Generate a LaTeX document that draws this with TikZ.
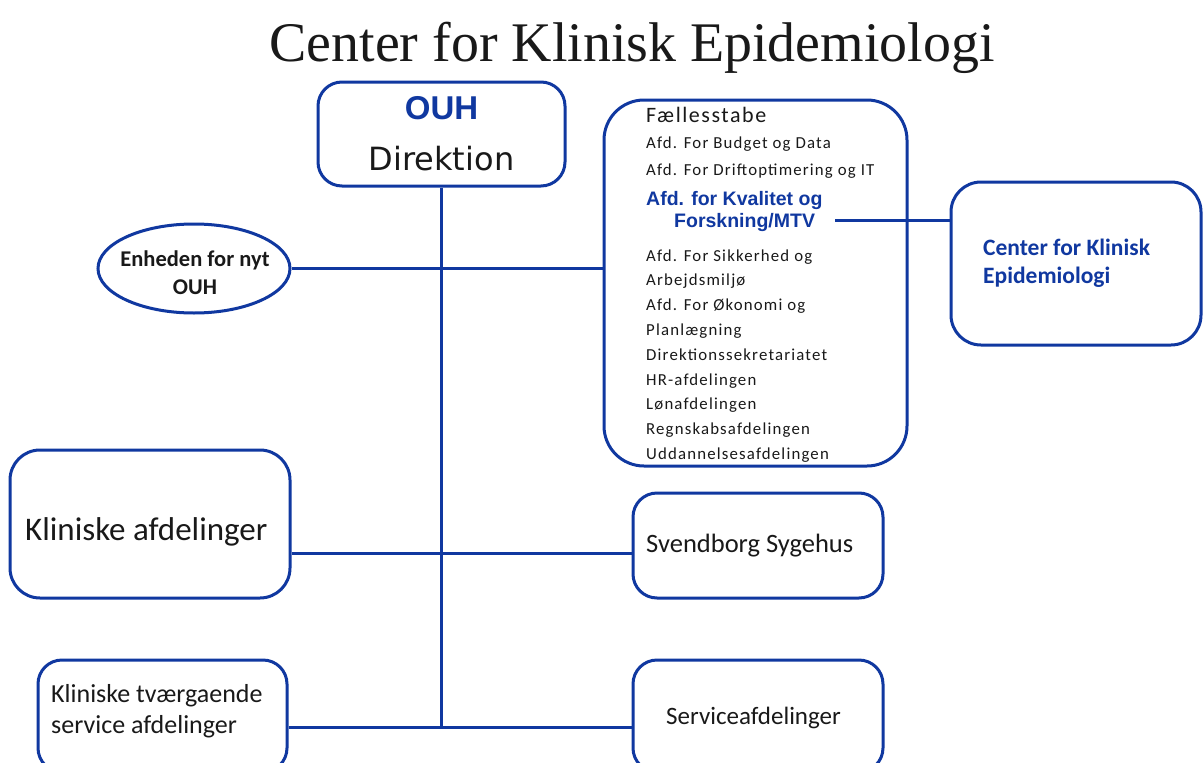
\documentclass[tikz,border=0pt]{standalone}
\usepackage{fontspec}
\setmainfont{Carlito}
\newfontfamily\calibri{Carlito}
\newfontfamily\calibriw[LetterSpace=7]{Carlito}
\newfontfamily\arialf{Liberation Sans}
\newfontfamily\dejavu{DejaVu Sans}
\newfontfamily\titlefont{Liberation Serif}
\usetikzlibrary{shapes.geometric}
\definecolor{orgblue}{RGB}{16,56,160}
\definecolor{txt}{RGB}{25,25,25}
\tikzset{
  box/.style={draw=orgblue, line width=3pt, rectangle, rounded corners=#1, inner sep=0pt},
  box/.default=28pt,
  conn/.style={draw=orgblue, line width=3pt},
  lbl/.style={anchor=base west, inner sep=0pt, text=txt},
  item/.style={lbl, font=\calibriw\fontsize{16.8}{18}\selectfont},
  blueb/.style={anchor=base west, inner sep=0pt, text=orgblue, font=\arialf\bfseries\fontsize{19.5}{21}\selectfont}
}
\begin{document}
\begin{tikzpicture}[x=1pt,y=-1pt]
\useasboundingbox (0,0) rectangle (1203,763);
\clip (0,0) rectangle (1203,763);
\fill[white] (0,0) rectangle (1203,763);

% title
\node[inner sep=0pt, text=txt, anchor=base] (title) at (632,61) {\resizebox{725pt}{!}{\titlefont\fontsize{55}{60}\selectfont Center for Klinisk Epidemiologi}};

% boxes
\node[box=24pt, minimum width=247pt, minimum height=104pt] (ouh) at (441.5,134) {};
\node[anchor=base, inner sep=0pt, text=orgblue, font=\arialf\bfseries\fontsize{33}{36}\selectfont] (ouht) at (441.5,119) {OUH};
\node[anchor=base, inner sep=0pt, text=txt, font=\dejavu\fontsize{32}{36}\selectfont] (dirt) at (441.5,170) {Direktion};

\node[box=40pt, minimum width=303pt, minimum height=366pt] (fael) at (755.5,283) {};
\node[box=30pt, minimum width=250pt, minimum height=163pt] (cke) at (1076,263.5) {};
\node[box=30pt, minimum width=280pt, minimum height=148pt] (kla) at (150,524) {};
\node[box=24pt, minimum width=250pt, minimum height=105pt] (svb) at (758,545.5) {};
\node[box=24pt, minimum width=249pt, minimum height=112pt] (klt) at (162.5,716) {};
\node[box=24pt, minimum width=250pt, minimum height=112pt] (srv) at (758,716) {};
\node[draw=orgblue, line width=3pt, ellipse, minimum width=192pt, minimum height=89pt, inner sep=0pt] (ell) at (194,268.5) {};

% Fællesstabe content
\node[lbl, font=\calibriw\fontsize{22}{24}\selectfont] (fst) at (646,122) {Fællesstabe};
\node[item] (i1) at (646,148) {Afd. For Budget og Data};
\node[item] (i2) at (646,175) {Afd. For Driftoptimering og IT};
\node[blueb] (b1) at (646,205) {Afd. for Kvalitet og};
\node[blueb] (b2) at (674,227) {Forskning/MTV};
\coordinate (fk) at (835,220);
\node[item] (i3) at (646,261) {Afd. For Sikkerhed og};
\node[item] (i4) at (646,285) {Arbejdsmiljø};
\node[item] (i5) at (646,310) {Afd. For Økonomi og};
\node[item] (i6) at (646,335) {Planlægning};
\node[item] (i7) at (646,360) {Direktionssekretariatet};
\node[item] (i8) at (646,385) {HR-afdelingen};
\node[item] (i9) at (646,409) {Lønafdelingen};
\node[item] (i10) at (646,434) {Regnskabsafdelingen};
\node[item] (i11) at (646,459) {Uddannelsesafdelingen};

% other labels
\node[anchor=base, inner sep=0pt, text=txt, font=\calibri\bfseries\fontsize{22.5}{24}\selectfont] (e1) at (195,266) {Enheden for nyt};
\node[anchor=base, inner sep=0pt, text=txt, font=\calibri\bfseries\fontsize{22.5}{24}\selectfont] (e2) at (195,294) {OUH};
\node[anchor=base west, inner sep=0pt, text=orgblue, font=\calibri\bfseries\fontsize{23.5}{25}\selectfont] (c1) at (983,255) {Center for Klinisk};
\node[anchor=base west, inner sep=0pt, text=orgblue, font=\calibri\bfseries\fontsize{23.5}{25}\selectfont] (c2) at (983,283) {Epidemiologi};
\node[lbl, font=\calibri\fontsize{33}{36}\selectfont] (klat) at (25,540) {Kliniske afdelinger};
\node[lbl, font=\calibri\fontsize{26.5}{28}\selectfont] (svbt) at (646,552) {Svendborg Sygehus};
\node[lbl, font=\calibri\fontsize{25}{28}\selectfont] (srvt) at (666,724) {Serviceafdelinger};
\node[lbl, font=\calibri\fontsize{26}{28}\selectfont] (klt1) at (51,702) {Kliniske tværgaende};
\node[lbl, font=\calibri\fontsize{26}{28}\selectfont] (klt2) at (51,733) {service afdelinger};

% connectors
\coordinate (vb) at (441,727);
\draw[conn] (ouh.south) -- (ouh.south |- vb);
\draw[conn] (ell.east) -- (ell.east -| fael.west);
\draw[conn] (fk) -- (fk -| cke.west);
\draw[conn] ([yshift=-29pt]kla.east) -- ([yshift=-29pt]kla.east -| svb.west);
\draw[conn] (klt.east |- vb) -- (srv.west |- vb);
\end{tikzpicture}
\end{document}
